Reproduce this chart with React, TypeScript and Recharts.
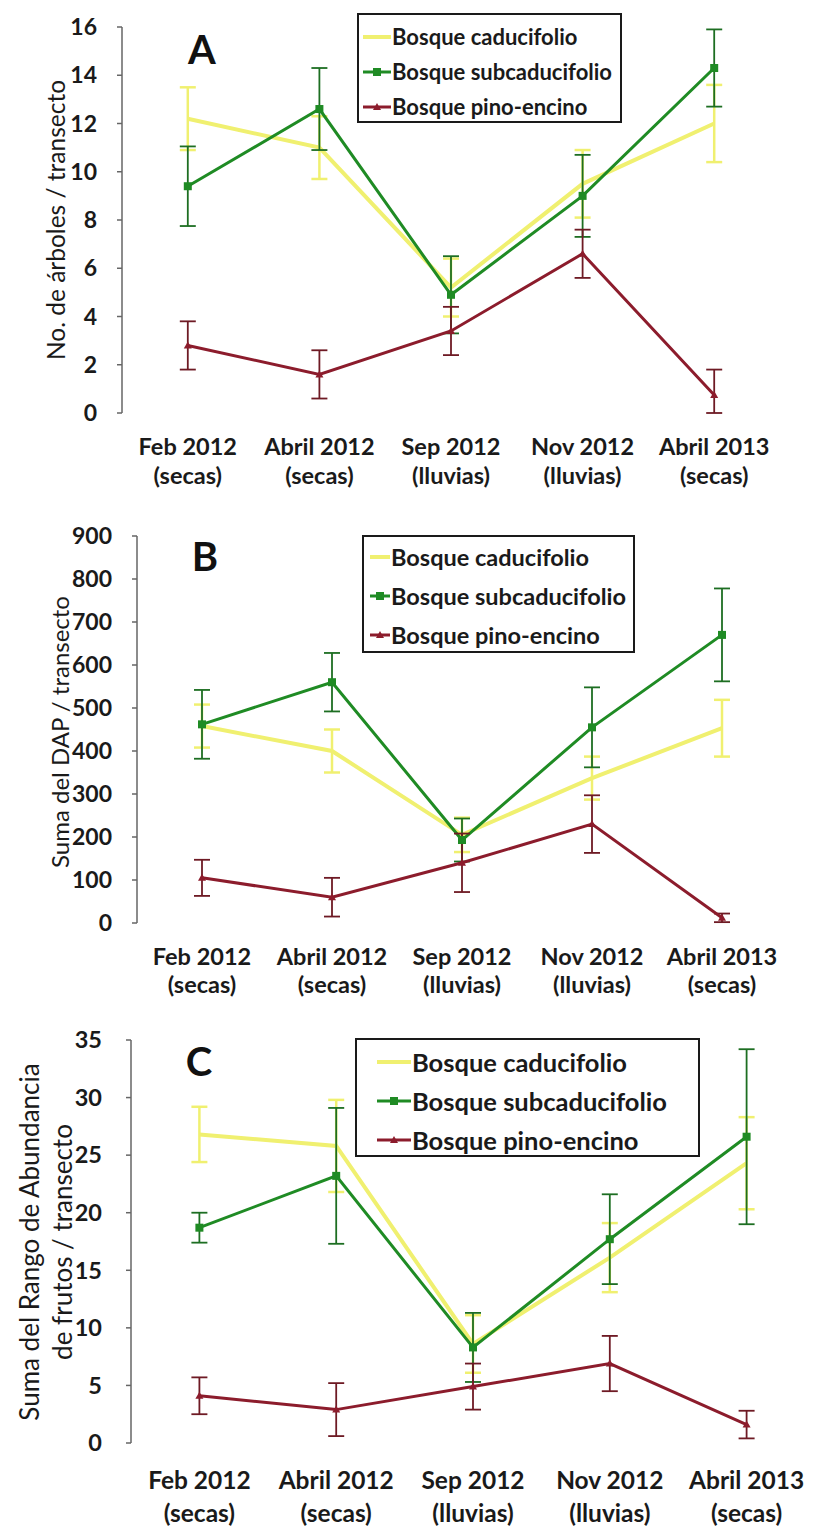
import React from "react";
import { LineChart, Line, XAxis, YAxis, ErrorBar, Legend } from "recharts";

// categories (x axis, two lines each)
const months = ["Feb 2012", "Abril 2012", "Sep 2012", "Nov 2012", "Abril 2013"];
const seasons = ["(secas)", "(secas)", "(lluvias)", "(lluvias)", "(secas)"];
const seriesNames = ["Bosque caducifolio", "Bosque subcaducifolio", "Bosque pino-encino"];
const seriesKeys = ["cad", "sub", "pino"];

// A: No. de árboles / transecto
const arbolesCad = [12.2, 11.0, 5.2, 9.5, 12.0];
const arbolesCadErr = [1.3, 1.3, 1.2, 1.4, 1.6];
const arbolesSub = [9.4, 12.6, 4.9, 9.0, 14.3];
const arbolesSubErr = [1.65, 1.7, 1.6, 1.7, 1.6];
const arbolesPino = [2.8, 1.6, 3.4, 6.6, 0.75];
const arbolesPinoErr = [1.0, 1.0, 1.0, 1.0, 1.05];

// B: Suma del DAP / transecto
const dapCad = [458, 400, 205, 337, 453];
const dapCadErr = [50, 50, 40, 50, 66];
const dapSub = [462, 560, 193, 455, 670];
const dapSubErr = [80, 68, 50, 93, 108];
const dapPino = [105, 60, 140, 230, 12];
const dapPinoErr = [42, 45, 68, 67, 10];

// C: Suma del Rango de Abundancia de frutos / transecto
const frutosCad = [26.8, 25.8, 8.6, 16.1, 24.3];
const frutosCadErr = [2.4, 4.0, 2.5, 3.0, 4.0];
const frutosSub = [18.7, 23.2, 8.3, 17.7, 26.6];
const frutosSubErr = [1.3, 5.9, 3.0, 3.9, 7.6];
const frutosPino = [4.1, 2.9, 4.9, 6.9, 1.6];
const frutosPinoErr = [1.6, 2.3, 2.0, 2.4, 1.2];

const ticksA = [0, 2, 4, 6, 8, 10, 12, 14, 16];
const ticksB = [0, 100, 200, 300, 400, 500, 600, 700, 800, 900];
const ticksC = [0, 5, 10, 15, 20, 25, 30, 35];

const FONT = "Lato, 'Open Sans', sans-serif";
const COLORS = { cad: "#f0f070", sub: "#1f8b24", pino: "#8c1c2c" };
const AXIS = "#666";

const bounds = months.map((_, i) => i).concat(months.length);
const centers = months.map((_, i) => i + 0.5);

// error bars never go below the x axis
const errPair = (v: number, e: number) => [Math.min(e, v), e];

function buildRows(cad, cadErr, sub, subErr, pino, pinoErr) {
  return months.map((m, i) => ({
    x: i + 0.5,
    cad: cad[i],
    cadErr: errPair(cad[i], cadErr[i]),
    sub: sub[i],
    subErr: errPair(sub[i], subErr[i]),
    pino: pino[i],
    pinoErr: errPair(pino[i], pinoErr[i]),
  }));
}

const SquareDot = (props: any) => {
  const { cx, cy, index } = props;
  if (cx == null || cy == null) return <g key={index} />;
  return <rect key={index} x={cx - 4} y={cy - 4} width={8} height={8} fill={COLORS.sub} />;
};

const TriDot = (props: any) => {
  const { cx, cy, index } = props;
  if (cx == null || cy == null) return <g key={index} />;
  return (
    <polygon
      key={index}
      points={`${cx},${cy - 4} ${cx - 4},${cy + 3} ${cx + 4},${cy + 3}`}
      fill={COLORS.pino}
    />
  );
};

function legendContent(o: { fontSize: number; rowH: number; padTop: number; padLeft: number; lineW: number }) {
  return (props: any) => {
    const items = [...(props.payload ?? [])].sort(
      (a: any, b: any) => seriesKeys.indexOf(a.dataKey) - seriesKeys.indexOf(b.dataKey)
    );
    return (
      <div
        style={{
          width: "100%",
          height: "100%",
          boxSizing: "border-box",
          border: "2px solid #1a1a1a",
          background: "#fff",
          paddingTop: o.padTop,
          paddingLeft: o.padLeft,
          fontFamily: FONT,
          fontWeight: 700,
          fontSize: o.fontSize,
          color: "#1a1a1a",
        }}
      >
        {items.map((it: any) => (
          <div key={it.value} style={{ display: "flex", alignItems: "center", height: o.rowH }}>
            <svg width={o.lineW} height={12} style={{ flex: "none" }}>
              <line x1={0} y1={6} x2={o.lineW} y2={6} stroke={it.color} strokeWidth={it.dataKey === "cad" ? 4 : 3} />
              {it.dataKey === "sub" && <rect x={o.lineW / 2 - 4} y={2} width={8} height={8} fill={COLORS.sub} />}
              {it.dataKey === "pino" && (
                <polygon
                  points={`${o.lineW / 2},${2} ${o.lineW / 2 - 4},${9} ${o.lineW / 2 + 4},${9}`}
                  fill={COLORS.pino}
                />
              )}
            </svg>
            <span style={{ whiteSpace: "nowrap", marginLeft: 1 }}>{it.value}</span>
          </div>
        ))}
      </div>
    );
  };
}

const XLabelTick = (props: any) => {
  const { x, y, payload, fontSize, d1, d2 } = props;
  const i = Math.round(payload.value - 0.5);
  const st = { fontFamily: FONT, fontWeight: 700, fontSize, fill: "#1a1a1a" };
  return (
    <g>
      <text x={x} y={y + d1} textAnchor="middle" style={st}>
        {months[i]}
      </text>
      <text x={x} y={y + d2} textAnchor="middle" style={st}>
        {seasons[i]}
      </text>
    </g>
  );
};

function Panel(p: any) {
  const width = 817;
  return (
    <div style={{ position: "absolute", left: 0, top: p.top, width, height: p.height }}>
      <LineChart
        width={width}
        height={p.height}
        data={p.rows}
        margin={{ top: p.plotTop, right: p.right, bottom: 0, left: 0 }}
      >
        <XAxis
          type="number"
          dataKey="x"
          domain={[0, months.length]}
          ticks={bounds}
          interval={0}
          tick={false}
          tickSize={-7}
          height={0}
          axisLine={{ stroke: AXIS, strokeWidth: 1.5 }}
          tickLine={{ stroke: AXIS, strokeWidth: 1.5 }}
          allowDataOverflow
        />
        <XAxis
          xAxisId="lab"
          type="number"
          dataKey="x"
          domain={[0, months.length]}
          ticks={centers}
          interval={0}
          height={p.labelH}
          axisLine={false}
          tickLine={false}
          tickSize={0}
          tickMargin={0}
          tick={<XLabelTick fontSize={p.xFont} d1={p.d1} d2={p.d2} />}
        />
        <YAxis
          type="number"
          domain={[0, p.ticks[p.ticks.length - 1]]}
          ticks={p.ticks}
          interval={0}
          width={p.left}
          tickSize={5}
          tickMargin={p.tickGap}
          axisLine={{ stroke: AXIS, strokeWidth: 1.5 }}
          tickLine={{ stroke: AXIS, strokeWidth: 1.5 }}
          tick={{ fontSize: p.yFont, fontWeight: 700, fill: "#1a1a1a", fontFamily: FONT }}
          allowDataOverflow
        />
        <Legend
          layout="vertical"
          align="center"
          verticalAlign="middle"
          wrapperStyle={p.legendBox}
          content={legendContent(p.legend)}
        />
        <Line
          type="linear"
          dataKey="cad"
          name={seriesNames[0]}
          stroke={COLORS.cad}
          strokeWidth={4}
          dot={false}
          isAnimationActive={false}
        >
          <ErrorBar dataKey="cadErr" width={8} stroke={COLORS.cad} strokeWidth={2.5} direction="y" isAnimationActive={false} />
        </Line>
        <Line
          type="linear"
          dataKey="sub"
          name={seriesNames[1]}
          stroke={COLORS.sub}
          strokeWidth={3}
          dot={SquareDot}
          isAnimationActive={false}
        >
          <ErrorBar dataKey="subErr" width={8} stroke="#1d6e22" strokeWidth={1.8} direction="y" isAnimationActive={false} />
        </Line>
        <Line
          type="linear"
          dataKey="pino"
          name={seriesNames[2]}
          stroke={COLORS.pino}
          strokeWidth={3}
          dot={TriDot}
          isAnimationActive={false}
        >
          <ErrorBar dataKey="pinoErr" width={8} stroke="#6e1a24" strokeWidth={1.8} direction="y" isAnimationActive={false} />
        </Line>
      </LineChart>
      <div
        style={{
          position: "absolute",
          left: p.letterX,
          top: p.letterY,
          transform: "translate(-50%, -50%)",
          fontFamily: FONT,
          fontWeight: 700,
          fontSize: 40,
          color: "#111",
        }}
      >
        {p.letter}
      </div>
      {p.title.map((t: string, i: number) => (
        <div
          key={t}
          style={{
            position: "absolute",
            left: p.titleX[i],
            top: p.titleY,
            transform: "translate(-50%, -50%) rotate(-90deg)",
            fontFamily: FONT,
            fontSize: p.titleFont,
            color: "#1a1a1a",
            whiteSpace: "nowrap",
          }}
        >
          {t}
        </div>
      ))}
    </div>
  );
}

export default function App() {
  return (
    <div style={{ position: "absolute", left: 0, top: 0, width: 817, height: 1527, background: "#fff" }}>
      <Panel
        top={0}
        height={500}
        plotTop={27}
        left={122}
        right={37}
        labelH={87}
        ticks={ticksA}
        tickGap={20}
        yFont={23}
        xFont={23.5}
        d1={42}
        d2={71}
        rows={buildRows(arbolesCad, arbolesCadErr, arbolesSub, arbolesSubErr, arbolesPino, arbolesPinoErr)}
        legendBox={{ left: 357, top: 13, width: 265, height: 110 }}
        legend={{ fontSize: 22, rowH: 35, padTop: 4, padLeft: 4, lineW: 28 }}
        letter="A"
        letterX={202}
        letterY={49}
        title={["No. de árboles / transecto"]}
        titleX={[55]}
        titleY={220}
        titleFont={24.5}
      />
      <Panel
        top={500}
        height={510}
        plotTop={36}
        left={137}
        right={30}
        labelH={87}
        ticks={ticksB}
        tickGap={20}
        yFont={23}
        xFont={23.5}
        d1={42}
        d2={70}
        rows={buildRows(dapCad, dapCadErr, dapSub, dapSubErr, dapPino, dapPinoErr)}
        legendBox={{ left: 362, top: 35, width: 273, height: 118 }}
        legend={{ fontSize: 23.5, rowH: 39, padTop: 0, padLeft: 6, lineW: 20 }}
        letter="B"
        letterX={205}
        letterY={56}
        title={["Suma del DAP / transecto"]}
        titleX={[59]}
        titleY={232}
        titleFont={24}
      />
      <Panel
        top={1020}
        height={507}
        plotTop={20}
        left={131}
        right={2}
        labelH={84}
        ticks={ticksC}
        tickGap={24}
        yFont={23.5}
        xFont={24.5}
        d1={46}
        d2={79}
        rows={buildRows(frutosCad, frutosCadErr, frutosSub, frutosSubErr, frutosPino, frutosPinoErr)}
        legendBox={{ left: 355, top: 18, width: 345, height: 119 }}
        legend={{ fontSize: 25.5, rowH: 39, padTop: 2, padLeft: 20, lineW: 34 }}
        letter="C"
        letterX={199}
        letterY={41}
        title={["Suma del Rango de Abundancia", "de frutos / transecto"]}
        titleX={[29, 62]}
        titleY={222}
        titleFont={26}
      />
    </div>
  );
}
